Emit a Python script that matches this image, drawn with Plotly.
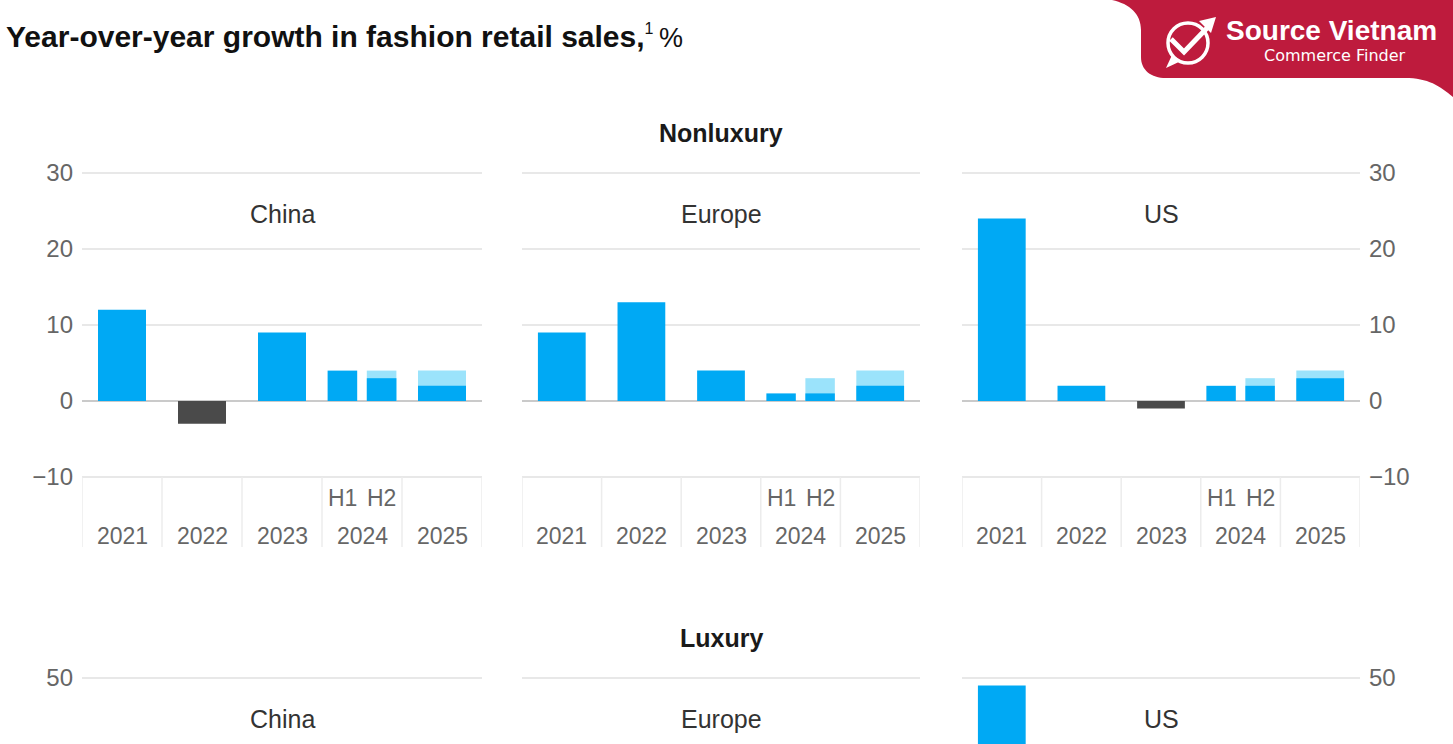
import plotly.graph_objects as go

W, H = 1453, 744

# ---------------- data ----------------
years = ["2021", "2022", "2023", "2024", "2025"]
periods = ["2021", "2022", "2023", "2024 H1", "2024 H2", "2025"]
half_labels = ["H1", "H2"]
regions = ["China", "Europe", "US"]

nonlux_china = [12, -3, 9, 4, 3, 2]
nonlux_china_high = [None, None, None, None, 4, 4]
nonlux_europe = [9, 13, 4, 1, 1, 2]
nonlux_europe_high = [None, None, None, None, 3, 4]
nonlux_us = [24, 2, -1, 2, 2, 3]
nonlux_us_high = [None, None, None, None, 3, 4]

lux_periods = ["2021"]
lux_us = [49]

nonlux_ticks = [-10, 0, 10, 20, 30]
lux_ticks = [50]

title_main = "Year-over-year growth in fashion retail sales,"
section_titles = ["Nonluxury", "Luxury"]

# ---------------- styles ----------------
BLUE = "#00A9F4"
LIGHT = "#9BE3FB"
NEG = "#4A4A4A"
GRID = "#E8E8E8"
ZERO = "#CACACA"
TICK = "#666666"
FONT = "Arial, Liberation Sans, sans-serif"
PXU = 7.6  # pixels per unit


def px(x):
    return x / W


def py(y):
    return 1 - y / H


def xpos(label):
    year, _, half = label.partition(" ")
    i = years.index(year)
    if half == "H1":
        return i - 0.245
    if half == "H2":
        return i + 0.245
    return i


def bwidth(label):
    return 0.37 if " " in label else 0.6


def ann(**kw):
    d = dict(showarrow=False, xanchor="center", yanchor="middle")
    d.update(kw)
    return d


panel_px = [(82, 482), (522, 920), (962, 1360)]
nl_top, nl_bottom = 170, 547
nl_range = [-10 - (nl_bottom - 477) / PXU, 30 + (173 - nl_top) / PXU]
lx_top, lx_bottom = 675, 744
lx_range = [50 - (lx_bottom - 678) / PXU, 50 + (678 - lx_top) / PXU]

fig = go.Figure()
layout = dict(
    template="none",
    width=W, height=H, margin=dict(l=0, r=0, t=0, b=0, pad=0, autoexpand=False),
    paper_bgcolor="white", plot_bgcolor="white",
    barmode="overlay", showlegend=False,
    font=dict(family=FONT, color="#333"),
)
shapes = []
annotations = []

nonlux = [(nonlux_china, nonlux_china_high), (nonlux_europe, nonlux_europe_high), (nonlux_us, nonlux_us_high)]

for k, (reg, (vals, highs)) in enumerate(zip(regions, nonlux)):
    ax = k + 1
    xa = "x" if ax == 1 else f"x{ax}"
    ya = "y" if ax == 1 else f"y{ax}"
    hx = [xpos(p) for p, h in zip(periods, highs) if h is not None]
    hw = [bwidth(p) for p, h in zip(periods, highs) if h is not None]
    hy = [h for h in highs if h is not None]
    fig.add_trace(go.Bar(x=hx, y=hy, width=hw, marker=dict(color=LIGHT, line=dict(width=0)),
                         xaxis=xa, yaxis=ya, hoverinfo="skip"))
    fig.add_trace(go.Bar(x=[xpos(p) for p in periods], y=vals, width=[bwidth(p) for p in periods],
                         marker=dict(color=[BLUE if v >= 0 else NEG for v in vals], line=dict(width=0)),
                         xaxis=xa, yaxis=ya, hoverinfo="skip"))
    x0, x1 = panel_px[k]
    layout["xaxis" if ax == 1 else f"xaxis{ax}"] = dict(
        domain=[px(x0), px(x1)], range=[-0.5, 4.5], showgrid=False, zeroline=False,
        showticklabels=False, showline=False, automargin=False, fixedrange=True, anchor=ya)
    layout["yaxis" if ax == 1 else f"yaxis{ax}"] = dict(
        domain=[py(nl_bottom), py(nl_top)], range=nl_range, tickvals=nonlux_ticks,
        showgrid=True, gridcolor=GRID, gridwidth=1.5, zeroline=True, zerolinecolor=ZERO, zerolinewidth=2,
        showticklabels=(k != 1), side=("right" if k == 2 else "left"), ticks="", showline=False,
        ticklabelstandoff=8, tickfont=dict(size=24, color=TICK, family=FONT), automargin=False,
        fixedrange=True, anchor=xa)
    for i in range(len(years) + 1):
        shapes.append(dict(type="line", xref=xa, yref=ya, x0=i - 0.5, x1=i - 0.5,
                           y0=-10, y1=nl_range[0], line=dict(color="#ECECEC", width=1.5)))
    for yr in years:
        annotations.append(ann(xref=xa, yref=ya, x=years.index(yr), y=-10 - (536 - 477) / PXU,
                               text=yr, font=dict(size=23, color=TICK)))
    for h in half_labels:
        annotations.append(ann(xref=xa, yref=ya, x=xpos("2024 " + h), y=-10 - (498 - 477) / PXU,
                               text=h, font=dict(size=23, color=TICK)))
    annotations.append(ann(xref="paper", yref="paper", x=px((x0 + x1) / 2), y=py(214),
                           text=reg, font=dict(size=25, color="#333")))

# luxury panels
for k, reg in enumerate(regions):
    ax = k + 4
    xa, ya = f"x{ax}", f"y{ax}"
    if reg == "US":
        fig.add_trace(go.Bar(x=[xpos(p) for p in lux_periods], y=lux_us, width=[bwidth(p) for p in lux_periods],
                             marker=dict(color=BLUE, line=dict(width=0)), xaxis=xa, yaxis=ya, hoverinfo="skip"))
    else:
        fig.add_trace(go.Bar(x=[0], y=[0], width=[0.6], marker=dict(color=BLUE, line=dict(width=0)),
                             xaxis=xa, yaxis=ya, hoverinfo="skip"))
    x0, x1 = panel_px[k]
    layout[f"xaxis{ax}"] = dict(domain=[px(x0), px(x1)], range=[-0.5, 4.5], showgrid=False, zeroline=False,
                               showticklabels=False, showline=False, automargin=False, fixedrange=True, anchor=ya)
    layout[f"yaxis{ax}"] = dict(
        domain=[0, py(lx_top)], range=lx_range, tickvals=lux_ticks,
        showgrid=True, gridcolor=GRID, gridwidth=1.5, zeroline=False, showline=False,
        showticklabels=(k != 1), side=("right" if k == 2 else "left"), ticks="",
        ticklabelstandoff=8, tickfont=dict(size=24, color=TICK, family=FONT), automargin=False,
        fixedrange=True, anchor=xa)
    annotations.append(ann(xref="paper", yref="paper", x=px((x0 + x1) / 2), y=py(719),
                           text=reg, font=dict(size=25, color="#333")))

# titles
annotations.append(ann(xref="paper", yref="paper", x=px(4), y=py(37), xanchor="left",
                       text=(f"<b>{title_main}</b><sup><span style='font-size:16px'>1</span></sup>"
                             f"<span style='font-size:27px'>\u2009%</span>"),
                       font=dict(size=30, color="#111")))
annotations.append(ann(xref="paper", yref="paper", x=px(721), y=py(133),
                       text=f"<b>{section_titles[0]}</b>", font=dict(size=25, color="#1a1a1a")))
annotations.append(ann(xref="paper", yref="paper", x=px(721), y=py(638),
                       text=f"<b>{section_titles[1]}</b>", font=dict(size=25, color="#1a1a1a")))


# logo badge
def P(x, y):
    return f"{px(x):.5f},{py(y):.5f}"


RED = "#BE1B3D"
badge = (f"M {P(1112,0)} L {P(1453,0)} L {P(1453,97)} C {P(1440,86)} {P(1428,78)} {P(1405,78)} "
         f"L {P(1166,78)} C {P(1151,78)} {P(1141,70)} {P(1141,57)} L {P(1141,30)} "
         f"C {P(1141,14)} {P(1130,4)} {P(1112,0)} Z")
shapes.append(dict(type="path", xref="paper", yref="paper", path=badge, fillcolor=RED, line=dict(width=0)))
shapes.append(dict(type="circle", xref="paper", yref="paper", x0=px(1168), x1=px(1208), y0=py(63), y1=py(23),
                   line=dict(color="white", width=3.5)))
shapes.append(dict(type="path", xref="paper", yref="paper",
                   path=f"M {P(1171,39)} L {P(1184,52)} L {P(1208,27)}", line=dict(color="white", width=5)))
shapes.append(dict(type="path", xref="paper", yref="paper",
                   path=f"M {P(1216,17)} L {P(1199,21)} L {P(1211,33)} Z", fillcolor="white", line=dict(width=0)))
shapes.append(dict(type="path", xref="paper", yref="paper",
                   path=f"M {P(1166,68)} L {P(1172,55)} L {P(1181,61)} Z", fillcolor="white", line=dict(width=0)))
annotations.append(ann(xref="paper", yref="paper", x=px(1224), y=py(31), xanchor="left",
                       text="<b>Source Vietnam</b>", font=dict(size=28, color="white", family=FONT)))
annotations.append(ann(xref="paper", yref="paper", x=px(1335), y=py(55),
                       text="Commerce Finder", font=dict(size=16, color="white", family="DejaVu Sans, sans-serif")))

layout["shapes"] = shapes
layout["annotations"] = annotations
fig.update_layout(**layout)
fig.write_html("out.html", config={"displayModeBar": False, "staticPlot": True},
               post_script="document.body.style.margin='0';document.body.style.overflow='hidden';")
